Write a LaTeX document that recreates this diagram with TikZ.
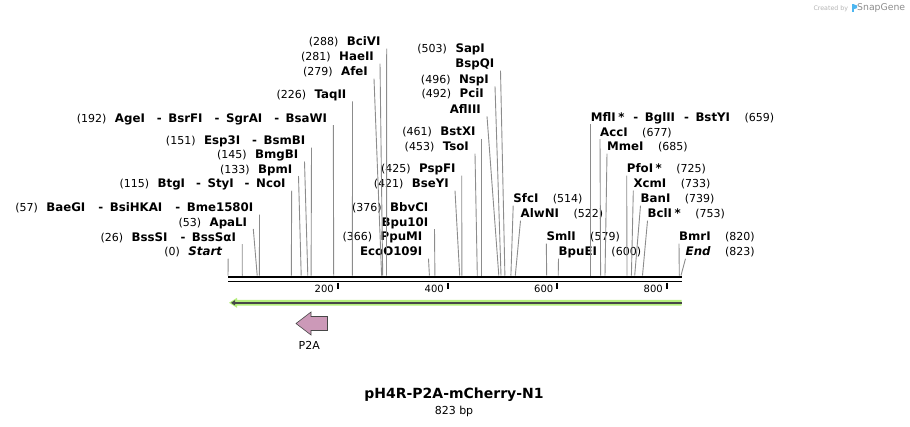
\documentclass[tikz,border=0pt]{standalone}
\usepackage{fontspec}
\setmainfont{DejaVu Sans}[ItalicFont={DejaVu Sans Oblique},BoldFont={DejaVu Sans Bold},BoldItalicFont={DejaVu Sans Bold Oblique}]
\usetikzlibrary{arrows.meta}

\definecolor{sitegray}{HTML}{8C8C8C}
\definecolor{featgreen}{HTML}{B4EE7C}
\definecolor{featdark}{HTML}{474747}
\definecolor{p2apink}{HTML}{CC99B8}
\definecolor{marklight}{HTML}{B4B4B4}
\definecolor{markdark}{HTML}{8C8C8C}
\definecolor{snapblue}{HTML}{4DB6F0}

\newcommand{\enzname}[1]{{\fontsize{11.8}{14}\selectfont\bfseries #1}}
\newcommand{\sepdash}[1][9pt]{\hspace{#1}{\fontsize{11.8}{14}\selectfont\bfseries -}\hspace{6.5pt}}

\tikzset{
  lbl/.style={inner ysep=0pt, font=\fontsize{11}{13}\selectfont},
  lftlbl/.style={lbl, inner xsep=6pt, anchor=base east},
  rgtlbl/.style={lbl, inner xsep=0pt, anchor=base west},
  siteline/.style={draw=sitegray, line width=0.9pt},
  tickmark/.style={line width=1.7pt},
  ticklbl/.style={inner sep=0pt, anchor=base east, font=\fontsize{10}{12}\selectfont},
}

\begin{document}
\begin{tikzpicture}[x=1pt,y=-1pt]
\useasboundingbox (0,0) rectangle (910,426);

% sites on the sequence
\coordinate (s0) at (228.0,275.5);
\coordinate (s26) at (242.3,275.5);
\coordinate (s53) at (257.2,275.5);
\coordinate (s57) at (259.4,275.5);
\coordinate (s115) at (291.3,275.5);
\coordinate (s133) at (301.2,275.5);
\coordinate (s145) at (307.8,275.5);
\coordinate (s151) at (311.1,275.5);
\coordinate (s192) at (333.7,275.5);
\coordinate (s226) at (352.4,275.5);
\coordinate (s279) at (381.6,275.5);
\coordinate (s281) at (382.7,275.5);
\coordinate (s288) at (386.5,275.5);
\coordinate (s366) at (429.4,275.5);
\coordinate (s376) at (434.9,275.5);
\coordinate (s421) at (459.7,275.5);
\coordinate (s425) at (461.9,275.5);
\coordinate (s453) at (477.3,275.5);
\coordinate (s461) at (481.7,275.5);
\coordinate (s492) at (498.8,275.5);
\coordinate (s496) at (501.0,275.5);
\coordinate (s503) at (504.9,275.5);
\coordinate (s514) at (510.9,275.5);
\coordinate (s522) at (515.3,275.5);
\coordinate (s579) at (546.7,275.5);
\coordinate (s600) at (558.2,275.5);
\coordinate (s659) at (590.7,275.5);
\coordinate (s677) at (600.6,275.5);
\coordinate (s685) at (605.0,275.5);
\coordinate (s725) at (627.0,275.5);
\coordinate (s733) at (631.4,275.5);
\coordinate (s739) at (634.7,275.5);
\coordinate (s753) at (642.5,275.5);
\coordinate (s820) at (679.3,275.5);
\coordinate (s823) at (681.0,275.5);

% left labels
\node[lftlbl] (agei) at (333.3,122) {(192)\hspace{8.5pt}\enzname{AgeI}\sepdash[12pt]\enzname{BsrFI}\sepdash[12pt]\enzname{SgrAI}\sepdash[12pt]\enzname{BsaWI}};
\node[lftlbl] (esp3i) at (311.5,144.5) {(151)\hspace{8.5pt}\enzname{Esp3I}\sepdash[12pt]\enzname{BsmBI}};
\node[lftlbl] (bmgbi) at (304.5,158.5) {(145)\hspace{8.5pt}\enzname{BmgBI}};
\node[lftlbl] (bpmi) at (298.5,173) {(133)\hspace{8.5pt}\enzname{BpmI}};
\node[lftlbl] (btgi) at (291.7,187.5) {(115)\hspace{8.5pt}\enzname{BtgI}\sepdash[11pt]\enzname{StyI}\sepdash[11pt]\enzname{NcoI}};
\node[lftlbl] (baegi) at (259.5,211.5) {(57)\hspace{8.5pt}\enzname{BaeGI}\sepdash[13pt]\enzname{BsiHKAI}\sepdash[13pt]\enzname{Bme1580I}};
\node[lftlbl] (apali) at (253.3,226) {(53)\hspace{8.5pt}\enzname{ApaLI}};
\node[lftlbl] (bsssi) at (242.2,241) {(26)\hspace{8.5pt}\enzname{BssSI}\sepdash[13pt]\enzname{BssSαI}};
\node[lftlbl] (start) at (228.2,255.5) {(0)\hspace{8.5pt}\enzname{\itshape Start}};

% middle labels
\node[lftlbl] (bcivi) at (386.7,45.7) {(288)\hspace{8.5pt}\enzname{BciVI}};
\node[lftlbl] (haeii) at (380,60.7) {(281)\hspace{8.5pt}\enzname{HaeII}};
\node[lftlbl] (afei) at (374,75.7) {(279)\hspace{8.5pt}\enzname{AfeI}};
\node[lftlbl] (taqii) at (352.5,98.3) {(226)\hspace{8.5pt}\enzname{TaqII}};
\node[lftlbl] (bbvci) at (434.5,211) {(376)\hspace{8.5pt}\enzname{BbvCI}};
\node[lftlbl] (bpu10i) at (434.5,226) {\enzname{Bpu10I}};
\node[lftlbl] (ppumi) at (428.5,240.7) {(366)\hspace{8.5pt}\enzname{PpuMI}};
\node[lftlbl] (ecoo109i) at (428.5,255.7) {\enzname{EcoO109I}};
\node[lftlbl] (bseyi) at (455,187.7) {(421)\hspace{8.5pt}\enzname{BseYI}};
\node[lftlbl] (pspfi) at (461.7,172.7) {(425)\hspace{8.5pt}\enzname{PspFI}};
\node[lftlbl] (tsoi) at (475,150.7) {(453)\hspace{8.5pt}\enzname{TsoI}};
\node[lftlbl] (bstxi) at (481.7,135.7) {(461)\hspace{8.5pt}\enzname{BstXI}};
\node[lftlbl] (afliii) at (487,113.3) {\enzname{AflIII}};
\node[lftlbl] (pcii) at (490,97.7) {(492)\hspace{8.5pt}\enzname{PciI}};
\node[lftlbl] (nspi) at (495,83.3) {(496)\hspace{8.5pt}\enzname{NspI}};
\node[lftlbl] (bspqi) at (500.5,67.7) {\enzname{BspQI}};
\node[lftlbl] (sapi) at (491,52.7) {(503)\hspace{8.5pt}\enzname{SapI}};

% right labels
\node[rgtlbl] (sfci) at (513.2,202.7) {\enzname{SfcI}\hspace{14.5pt}(514)};
\node[rgtlbl] (alwni) at (520.5,217.7) {\enzname{AlwNI}\hspace{14.5pt}(522)};
\node[rgtlbl] (smli) at (546.3,240.7) {\enzname{SmlI}\hspace{14.5pt}(579)};
\node[rgtlbl] (bpuei) at (558.5,255.7) {\enzname{BpuEI}\hspace{14.5pt}(600)};
\node[rgtlbl] (mfli) at (590.7,121) {\enzname{MflI\hspace{2.5pt}*}\sepdash\enzname{BglII}\sepdash\enzname{BstYI}\hspace{14.5pt}(659)};
\node[rgtlbl] (acci) at (600,136) {\enzname{AccI}\hspace{14.5pt}(677)};
\node[rgtlbl] (mmei) at (607,150.7) {\enzname{MmeI}\hspace{14.5pt}(685)};
\node[rgtlbl] (pfoi) at (626.7,172.7) {\enzname{PfoI\hspace{2.5pt}*}\hspace{14.5pt}(725)};
\node[rgtlbl] (xcmi) at (633.3,187.7) {\enzname{XcmI}\hspace{14.5pt}(733)};
\node[rgtlbl] (bani) at (640.5,202.7) {\enzname{BanI}\hspace{14.5pt}(739)};
\node[rgtlbl] (bcli) at (647.5,217.7) {\enzname{BclI\hspace{2.5pt}*}\hspace{14.5pt}(753)};
\node[rgtlbl] (bmri) at (679,240.7) {\enzname{BmrI}\hspace{14.5pt}(820)};
\node[rgtlbl] (end) at (685.5,255.7) {\enzname{\itshape End}\hspace{14.5pt}(823)};

% lines from labels to sites
\draw[siteline] ([yshift=-3pt]agei.base east) -- (s192);
\draw[siteline] ([yshift=-3pt]esp3i.base east) -- (s151);
\draw[siteline] ([yshift=-3pt]bmgbi.base east) -- (s145);
\draw[siteline] ([yshift=-3pt]bpmi.base east) -- (s133);
\draw[siteline] ([yshift=-3pt]btgi.base east) -- (s115);
\draw[siteline] ([yshift=-3pt]baegi.base east) -- (s57);
\draw[siteline] ([yshift=-3pt]apali.base east) -- (s53);
\draw[siteline] ([yshift=-3pt]bsssi.base east) -- (s26);
\draw[siteline] ([yshift=-3pt]start.base east) -- (s0);
\draw[siteline] ([yshift=-3pt]bcivi.base east) -- (s288);
\draw[siteline] ([yshift=-3pt]haeii.base east) -- (s281);
\draw[siteline] ([yshift=-3pt]afei.base east) -- (s279);
\draw[siteline] ([yshift=-3pt]taqii.base east) -- (s226);
\draw[siteline] ([yshift=-3pt]bpu10i.base east) -- (s376);
\draw[siteline] ([yshift=-3pt]ecoo109i.base east) -- (s366);
\draw[siteline] ([yshift=-3pt]bseyi.base east) -- (s421);
\draw[siteline] ([yshift=-3pt]pspfi.base east) -- (s425);
\draw[siteline] ([yshift=-3pt]tsoi.base east) -- (s453);
\draw[siteline] ([yshift=-3pt]bstxi.base east) -- (s461);
\draw[siteline] ([yshift=-3pt]afliii.base east) -- (s492);
\draw[siteline] ([yshift=-3pt]nspi.base east) -- (s496);
\draw[siteline] ([yshift=-3pt]bspqi.base east) -- (s503);
\draw[siteline] ([yshift=-3pt]sfci.base west) -- (s514);
\draw[siteline] ([yshift=-3pt]alwni.base west) -- (s522);
\draw[siteline] ([yshift=-3pt]smli.base west) -- (s579);
\draw[siteline] ([yshift=-3pt]bpuei.base west) -- (s600);
\draw[siteline] ([yshift=-3pt]mfli.base west) -- (s659);
\draw[siteline] ([yshift=-3pt]acci.base west) -- (s677);
\draw[siteline] ([yshift=-3pt]mmei.base west) -- (s685);
\draw[siteline] ([yshift=-3pt]pfoi.base west) -- (s725);
\draw[siteline] ([yshift=-3pt]xcmi.base west) -- (s733);
\draw[siteline] ([yshift=-3pt]bani.base west) -- (s739);
\draw[siteline] ([yshift=-3pt]bcli.base west) -- (s753);
\draw[siteline] ([yshift=-3pt]bmri.base west) -- (s820);
\draw[siteline] ([yshift=-3pt]end.base west) -- (s823);

% sequence bar and scale
\draw[line width=2.7pt] (228.3,277) -- (681.7,277);
\draw[line width=1.7pt] (228.3,281.5) -- (681.7,281.5);
\draw[tickmark] (337.7,282.5) -- (337.7,289);
\draw[tickmark] (447.7,282.5) -- (447.7,289);
\draw[tickmark] (557.3,282.5) -- (557.3,289);
\draw[tickmark] (667.0,282.5) -- (667.0,289);
\node[ticklbl] (t200) at (334,292.5) {200};
\node[ticklbl] (t400) at (444,292.5) {400};
\node[ticklbl] (t600) at (553.5,292.5) {600};
\node[ticklbl] (t800) at (663,292.5) {800};

% features
\fill[featgreen] (229,302.8) -- (237,297.8) -- (237,299.9) -- (681.7,299.9) -- (681.7,305.7) -- (237,305.7) -- (237,307.8) -- cycle;
\draw[featdark, line width=2.2pt, -{Triangle[length=4pt,width=5pt]}] (681.7,302.8) -- (231,302.8);
\filldraw[fill=p2apink, draw=featdark, line width=0.6pt] (296,323.5) -- (311,312) -- (311,316.5) -- (327.5,316.5) -- (327.5,330.5) -- (311,330.5) -- (311,335) -- cycle;
\node[lbl, anchor=base] (p2a) at (309.3,349.3) {P2A};

% title
\node[inner sep=0pt, anchor=base, font=\fontsize{14}{16}\selectfont\bfseries] (title) at (454,398.3) {pH4R-P2A-mCherry-N1};
\node[lbl, anchor=base] (size) at (454,414) {823 bp};

% watermark
\node[inner sep=0pt, anchor=base west, text=marklight, font=\fontsize{6.3}{8}\selectfont] (created) at (813.3,10) {Created by};
\fill[snapblue] (851.8,4.3) rectangle (853.8,11.5);
\fill[snapblue] (853.8,4.3) -- (857.2,5.6) -- (857.2,8) -- (853.8,9.2) -- cycle;
\node[inner sep=0pt, anchor=base west, text=markdark, font=\fontsize{9.3}{11}\selectfont] (snapgene) at (857,10.8) {SnapGene};
\end{tikzpicture}
\end{document}
